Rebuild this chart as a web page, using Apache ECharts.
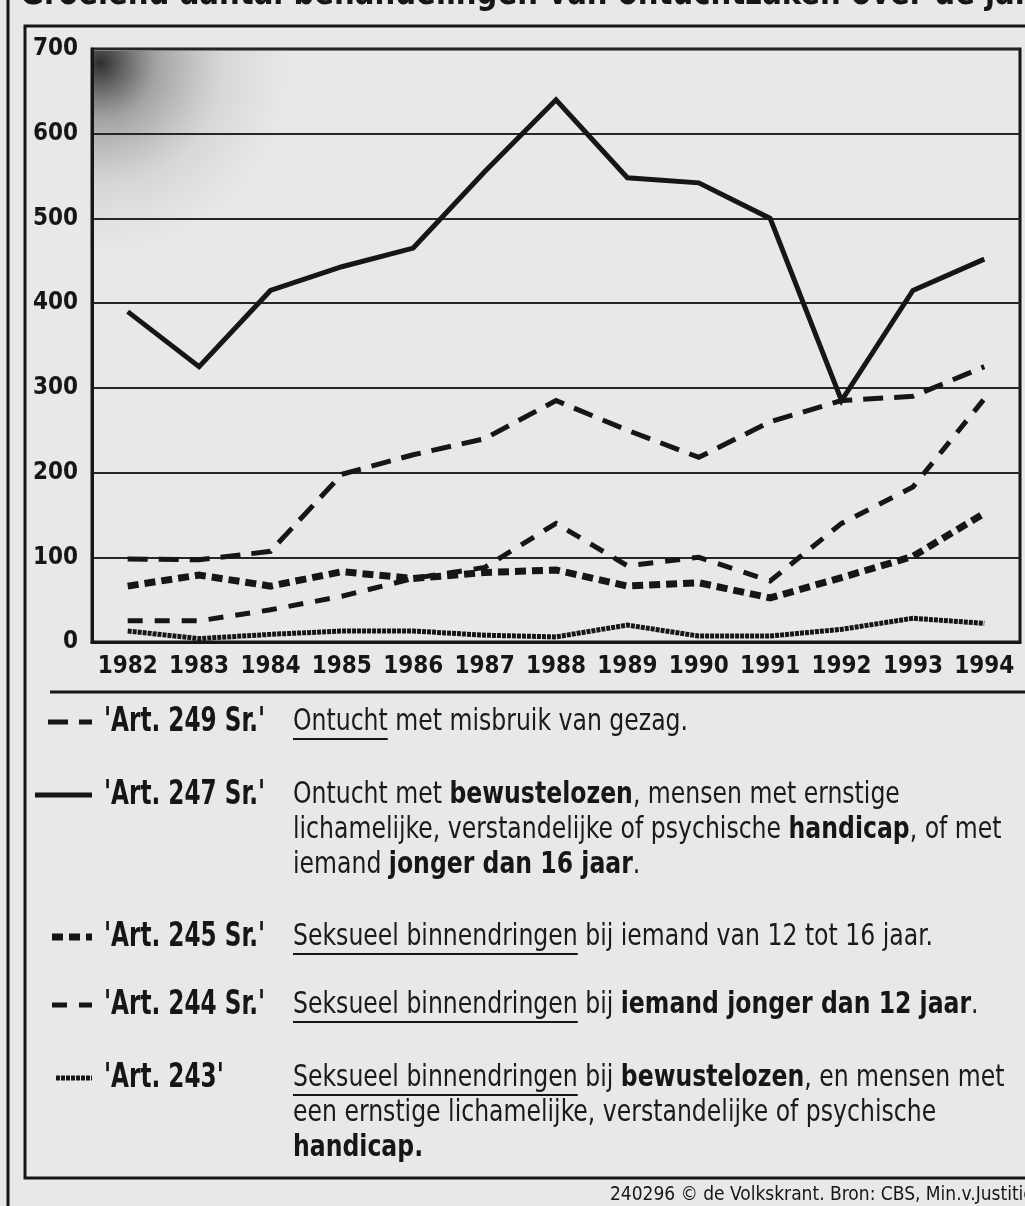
<!DOCTYPE html>
<html lang="nl">
<head>
<meta charset="UTF-8">
<title>Art. 243-249 Sr.</title>
<script src="https://cdn.jsdelivr.net/npm/echarts@6/dist/echarts.min.js"></script>
<style>
  html, body { margin: 0; padding: 0; background: #e8e8e6; }
  #main { width: 1025px; height: 1206px; }
</style>
</head>
<body>
<div id="main"></div>
<script>
// gegevens
var years = ['1982', '1983', '1984', '1985', '1986', '1987', '1988', '1989', '1990', '1991', '1992', '1993', '1994'];
var art247 = [390, 325, 415, 443, 465, 555, 640, 548, 542, 500, 285, 415, 452];
var art249 = [98, 97, 107, 198, 221, 240, 285, 250, 218, 260, 285, 290, 325];
var art245 = [66, 79, 66, 83, 75, 82, 85, 66, 70, 52, 76, 101, 152];
var art244 = [25, 25, 38, 54, 75, 88, 140, 90, 100, 72, 140, 183, 287];
var art243 = [13, 4, 9, 13, 13, 8, 6, 20, 7, 7, 15, 28, 22];

var legendNames = ["'Art. 249 Sr.'", "'Art. 247 Sr.'", "'Art. 245 Sr.'", "'Art. 244 Sr.'", "'Art. 243'"];
var legendText = [
    ['Ontucht met misbruik van gezag.'],
    ['Ontucht met {b|bewustelozen}, mensen met ernstige',
     'lichamelijke, verstandelijke of psychische {b|handicap}, of met',
     'iemand {b|jonger dan 16 jaar}.'],
    ['Seksueel binnendringen bij iemand van 12 tot 16 jaar.'],
    ['Seksueel binnendringen bij {b|iemand jonger dan 12 jaar}.'],
    ['Seksueel binnendringen bij {b|bewustelozen}, en mensen met',
     'een ernstige lichamelijke, verstandelijke of psychische',
     '{b|handicap.}']
];
var underlined = ['Ontucht', '', 'Seksueel binnendringen', 'Seksueel binnendringen', 'Seksueel binnendringen'];

var FONT = "'DejaVu Sans Condensed', 'DejaVu Sans', sans-serif";
var INK = '#161616';
var SQ = 0.845;   // smalle letter

// lijnstijlen per reeks (zelfde volgorde als de legenda)
var styles = [
    {width: 5, dash: [20, 11]},
    {width: 5, dash: null},
    {width: 7, dash: [11, 6]},
    {width: 5, dash: [15, 12]},
    {width: 5, dash: [4, 1]}
];
var seriesData = [art249, art247, art245, art244, art243];

function textWidth(str, font) {
    var ctx = document.createElement('canvas').getContext('2d');
    ctx.font = font;
    return ctx.measureText(str).width;
}

var myChart = echarts.init(document.getElementById('main'));

var graphics = [];
// kaders
graphics.push({type: 'line', silent: true, shape: {x1: 8, y1: 0, x2: 8, y2: 1206}, style: {stroke: INK, lineWidth: 3}});
graphics.push({type: 'polyline', silent: true, shape: {points: [[1025, 26], [25, 26], [25, 1178], [1025, 1178]]},
    style: {stroke: INK, lineWidth: 3, fill: null}});
graphics.push({type: 'line', silent: true, shape: {x1: 50, y1: 692, x2: 1025, y2: 692}, style: {stroke: INK, lineWidth: 3}});
// grijze vlek linksboven
graphics.push({type: 'rect', silent: true, z: 0, shape: {x: 93, y: 51, width: 360, height: 200},
    style: {fill: new echarts.graphic.RadialGradient(0.02, 0.06, 0.95, [
        {offset: 0, color: 'rgba(25,25,25,0.9)'},
        {offset: 0.3, color: 'rgba(80,80,80,0.45)'},
        {offset: 0.65, color: 'rgba(120,120,120,0.15)'},
        {offset: 1, color: 'rgba(140,140,140,0)'}
    ])}});
// titel (afgesneden)
graphics.push({type: 'text', silent: true, x: 20, y: -23, scaleX: 0.9,
    style: {text: 'Groeiend aantal behandelingen van ontuchtzaken over de jaren', fontSize: 36, fontWeight: 'bold',
        fontFamily: FONT, fill: INK}});
// bron
graphics.push({type: 'text', silent: true, x: 610, y: 1195, scaleX: 0.95,
    style: {text: '240296 © de Volkskrant. Bron: CBS, Min.v.Justitie', fontSize: 20, fontFamily: FONT,
        fill: INK, verticalAlign: 'middle'}});

// legenda
var rowY = [722, 795, 937, 1005, 1078];
var symStart = [48, 35, 52, 52, 56];
var lineGap = 35;
for (var i = 0; i < legendNames.length; i++) {
    graphics.push({type: 'line', silent: true, shape: {x1: symStart[i], y1: rowY[i], x2: 92, y2: rowY[i]},
        style: {stroke: INK, lineWidth: styles[i].width, lineDash: styles[i].dash}});
    graphics.push({type: 'text', silent: true, x: 104, y: rowY[i], scaleX: 0.78,
        style: {text: legendNames[i], fontSize: 33, fontWeight: 'bold', fontFamily: FONT, fill: INK, verticalAlign: 'middle'}});
    for (var j = 0; j < legendText[i].length; j++) {
        graphics.push({type: 'text', silent: true, x: 293, y: rowY[i] + j * lineGap, scaleX: SQ,
            style: {text: legendText[i][j], fontSize: 31, fontFamily: FONT, fill: '#1a1a1a', verticalAlign: 'middle',
                rich: {b: {fontSize: 31, fontWeight: 'bold', fontFamily: FONT, fill: INK}}}});
    }
    if (underlined[i]) {
        var w = textWidth(underlined[i], '31px ' + FONT) * SQ;
        graphics.push({type: 'line', silent: true, shape: {x1: 293, y1: rowY[i] + 17, x2: 293 + w, y2: rowY[i] + 17},
            style: {stroke: INK, lineWidth: 2}});
    }
}

var series = [];
for (var k = 0; k < seriesData.length; k++) {
    series.push({
        name: legendNames[k],
        type: 'line',
        data: seriesData[k],
        symbol: 'none',
        z: 3,
        lineStyle: {color: INK, width: styles[k].width, type: styles[k].dash || 'solid', cap: 'butt', join: 'miter'}
    });
}

myChart.setOption({
    backgroundColor: '#e8e8e6',
    animation: false,
    grid: {left: 92, right: 5, top: 49, bottom: 564, show: true, borderColor: INK, borderWidth: 3},
    xAxis: {
        type: 'category',
        data: years,
        boundaryGap: true,
        axisLine: {show: true, lineStyle: {color: INK, width: 3}},
        axisTick: {show: false},
        axisLabel: {color: INK, fontSize: 24, fontWeight: 'bold', fontFamily: FONT, margin: 13, interval: 0}
    },
    yAxis: {
        type: 'value',
        min: 0,
        max: 700,
        interval: 100,
        axisLine: {show: true, lineStyle: {color: INK, width: 3}},
        axisTick: {show: false},
        axisLabel: {color: INK, fontSize: 24, fontWeight: 'bold', fontFamily: FONT, margin: 14},
        splitLine: {lineStyle: {color: '#262626', width: 2}}
    },
    series: series,
    graphic: graphics
});
</script>
</body>
</html>
